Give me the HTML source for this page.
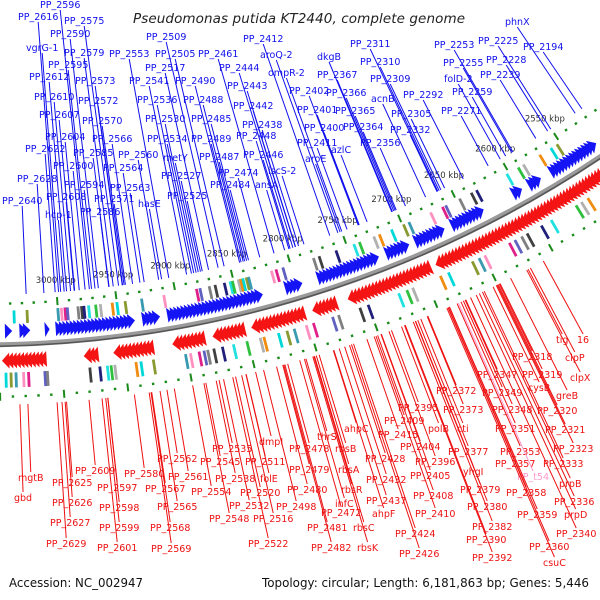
<!DOCTYPE html>
<html><head><meta charset="utf-8"><title>Pseudomonas putida KT2440 genome map</title>
<style>
html,body{margin:0;padding:0;background:#fff;}
svg{display:block;}
.lbl{font-family:"DejaVu Sans","Liberation Sans",sans-serif;font-size:9.5px;}
.tick{font-family:"DejaVu Sans","Liberation Sans",sans-serif;font-size:8.5px;fill:#333;}
</style></head>
<body>
<svg id="map" width="600" height="600" viewBox="0 0 600 600">
  <text x="299" y="23" text-anchor="middle" textLength="332" lengthAdjust="spacing" font-family="DejaVu Sans, Liberation Sans, sans-serif" font-style="italic" font-size="13.5" fill="#222">Pseudomonas putida KT2440, complete genome</text>
  <g id="tracks"></g>
  <g id="labels"></g>
  <text x="9" y="587" textLength="134" lengthAdjust="spacingAndGlyphs" font-family="DejaVu Sans, Liberation Sans, sans-serif" font-size="12" fill="#111">Accession: NC_002947</text>
  <text x="589" y="587" text-anchor="end" textLength="327" lengthAdjust="spacingAndGlyphs" font-family="DejaVu Sans, Liberation Sans, sans-serif" font-size="12" fill="#111">Topology: circular; Length: 6,181,863 bp; Genes: 5,446</text>
</svg>
<script>
// ---- data (kbp positions on genome) ----
const tickKbp = [2550,2600,2650,2700,2750,2800,2850,2900,2950,3000];
const tickLabels = ["2550 kbp","2600 kbp","2650 kbp","2700 kbp","2750 kbp","2800 kbp","2850 kbp","2900 kbp","2950 kbp","3000 kbp"];
const blueClusterStart = [3045,3034,3012,3003,2933,2912,2812,2782,2723,2696,2665,2606,2593,2570];
const blueClusterEnd   = [3039,3024,3008,2937,2916,2829,2795,2728,2701,2669,2633,2597,2579,2525];
const redClusterStart = [3049,2983,2958,2912,2879,2846,2796,2764,2688];
const redClusterEnd   = [3012,2970,2925,2883,2850,2800,2773,2692,2505];
const blueBarKbp = [3037,3026,3000,2997,2994,2992,2983,2980,2978,2974,2968,2964,2954,2950,2943,2929,2910,2882,2879,2871,2866,2858,2853,2851,2846,2844,2842,2839,2837,2817,2813,2807,2780,2775,2760,2744,2739,2726,2721,2710,2699,2694,2674,2663,2660,2647,2636,2631,2602,2591,2586,2570,2559,2553];
const redBarKbp = [3045,3041,3037,3031,3027,3014,3012,2978,2970,2964,2961,2958,2941,2937,2927,2901,2897,2890,2886,2883,2878,2871,2862,2851,2840,2837,2825,2818,2812,2802,2796,2780,2775,2757,2750,2724,2717,2712,2688,2681,2660,2654,2649,2627,2622,2616,2611,2598,2589,2566,2561,2555];
const barPalette = ['#00d8d8','#3a9ab0','#e0208a','#808080','#20207a','#30c040','#f08c10','#8a9a30','#ff90c0','#6060c0','#404040','#20e0e0','#b0b0b0'];
const dotStart = 2480, dotEnd = 3070;

// label layout: [name, x, baselineY]
const blueLabels = [
["PP_2596",40,8],["PP_2616",18,20],["PP_2575",64,24],["PP_2590",50,37],["vgrG-1",26,51],["PP_2579",64,56],
["PP_2553",109,57],["PP_2505",155,57],["PP_2461",198,57],["PP_2509",146,40],["PP_2412",243,42],["aroQ-2",260,58],
["PP_2595",48,68],["PP_2517",145,71],["ompR-2",268,76],["PP_2612",29,80],["PP_2573",75,84],["PP_2541",129,84],
["PP_2490",175,84],["PP_2444",219,71],["PP_2443",227,89],["PP_2610",34,100],["PP_2572",78,104],["PP_2536",137,103],
["PP_2488",183,103],["PP_2442",233,109],["PP_2607",39,118],["PP_2570",82,124],["PP_2530",145,122],["PP_2485",191,122],
["PP_2438",242,128],["PP_2604",45,140],["PP_2566",92,142],["PP_2534",147,142],["PP_2489",191,142],["PP_2448",236,139],
["PP_2622",25,152],["PP_2585",73,156],["PP_2560",118,158],["metY",163,161],["PP_2487",199,160],["PP_2446",243,158],
["PP_2600",53,169],["PP_2564",103,171],["PP_2527",161,179],["PP_2474",218,176],["iscS-2",268,174],["PP_2628",17,182],
["PP_2594",64,188],["PP_2563",110,191],["PP_2484",210,188],["ansA",255,188],["PP_2640",2,204],["PP_2608",46,200],
["PP_2571",94,202],["hasE",138,207],["PP_2525",167,199],["hcp-1",45,218],["PP_2586",80,215],
["PP_2311",350,47],["dkgB",317,60],["PP_2367",317,78],["PP_2310",360,65],["PP_2309",370,82],["PP_2402",289,94],
["PP_2366",326,96],["acnB",371,102],["PP_2292",403,98],["PP_2401",297,113],["PP_2365",335,114],["PP_2305",391,117],
["PP_2253",434,48],["PP_2225",478,44],["PP_2194",523,50],["phnX",505,25],["PP_2255",443,66],["PP_2228",486,63],
["folD-2",444,82],["PP_2239",480,78],["PP_2259",452,95],["PP_2271",441,114],["PP_2400",304,131],["PP_2364",343,130],
["PP_2332",390,133],["PP_2411",297,146],["PP_2356",360,146],["azlC",331,153],["aroE",305,162]
];
const redLabels = [
["mgtB",18,481],["gbd",14,501],["PP_2625",52,486],["PP_2626",52,506],["PP_2627",50,526],["PP_2629",46,547],
["PP_2609",75,474],["PP_2597",97,491],["PP_2598",99,511],["PP_2599",99,531],["PP_2601",97,551],["PP_2580",124,477],
["PP_2562",157,462],["PP_2567",145,492],["PP_2561",168,480],["PP_2565",157,510],["PP_2568",150,531],["PP_2569",151,552],
["PP_2535",212,452],["PP_2545",200,465],["dmpI",259,445],["PP_2511",245,465],["PP_2538",215,482],["folE",260,482],
["PP_2554",191,495],["PP_2520",240,496],["PP_2532",229,509],["PP_2548",209,522],["PP_2516",253,522],["PP_2522",248,547],
["PP_2478",289,452],["PP_2479",289,473],["PP_2480",287,493],["PP_2498",276,510],["PP_2481",307,531],["PP_2482",311,551],
["rbsB",335,452],["rbsA",338,473],["rbsR",341,493],["infC",335,507],["rbsC",353,531],["rbsK",357,551],["thrS",317,440],
["PP_2472",321,516],["ahpC",344,432],["PP_2428",365,462],["PP_2432",366,483],["PP_2437",366,504],["ahpF",372,517],
["PP_2424",395,537],["PP_2426",399,557],["PP_2395",398,411],["PP_2409",384,424],["PP_2415",378,438],["PP_2404",400,450],
["PP_2396",415,465],["PP_2405",410,479],["PP_2408",413,499],["PP_2410",415,517],["polB",428,432],["PP_2372",436,394],
["PP_2373",443,413],["cti",457,432],["PP_2377",448,455],["yhgI",463,475],["PP_2379",460,493],["PP_2380",467,510],
["PP_2382",472,530],["PP_2390",466,543],["PP_2392",472,561],["PP_2347",477,378],["PP_2349",482,396],["PP_2348",492,413],
["PP_2351",495,432],["PP_2353",500,455],["PP_2357",495,467],["PP_t54",517,480],["PP_2358",506,496],["PP_2359",517,518],
["PP_2360",529,550],["csuC",543,566],["PP_2318",512,360],["PP_2319",522,378],["cysB",528,391],["PP_2320",537,414],
["PP_2321",545,433],["PP_2323",553,452],["PP_2333",543,467],["prpB",559,487],["PP_2336",554,505],["prpD",564,518],
["PP_2340",556,537],["tig",556,343],["16",577,343],["clpP",565,361],["clpX",570,381],["greB",556,399]
];

// ---- geometry ----
const NS = "http://www.w3.org/2000/svg";
const CX = -22, CY = -777, R = 1122;
function ang(k){ return (57.67 + (k - 2550) * 0.0625) * Math.PI / 180; }
function pt(k, r){ const a = ang(k); return [CX + r*Math.cos(a), CY + r*Math.sin(a)]; }
function mk(tag, attrs, parent){ const e = document.createElementNS(NS, tag); for (const k in attrs) e.setAttribute(k, attrs[k]); parent.appendChild(e); return e; }
const tracks = document.getElementById('tracks');
const labelsG = document.getElementById('labels');

// backbone ring
(function(){
  const a = pt(2470, R), b = pt(3080, R);
  const d = `M${a[0]},${a[1]} A${R},${R} 0 0 1 ${b[0]},${b[1]}`;
  const ring = mk('path', {d:d, fill:'none', stroke:'#9a9a9a', 'stroke-width':5}, tracks);
  
  
  const a2 = pt(2470, R+1.5), b2 = pt(3080, R+1.5);
  const inner = mk('path', {d:`M${a2[0]},${a2[1]} A${R+1.5},${R+1.5} 0 0 1 ${b2[0]},${b2[1]}`, fill:'none', stroke:'#555', 'stroke-width':1.5}, tracks);
  
  
})();

// gene arrows
function drawArrows(starts, ends, r1, r2, color, pointLow, name){
  for (let i = 0; i < starts.length; i++){
    const lo = Math.min(starts[i], ends[i]), hi = Math.max(starts[i], ends[i]);
    const w = Math.min(6, Math.max(3, hi - lo));
    for (let k = lo; k <= Math.max(lo, hi - w) + 0.01; k += 3){
      let p1, p2, p3;
      const rm = (r1 + r2) / 2;
      if (pointLow){ p1 = pt(k + w, r1); p2 = pt(k + w, r2); p3 = pt(k, rm); }
      else { p1 = pt(k, r1); p2 = pt(k, r2); p3 = pt(k + w, rm); }
      const poly = mk('polygon', {points:`${p1[0]},${p1[1]} ${p2[0]},${p2[1]} ${p3[0]},${p3[1]}`, fill:color}, tracks);
      
      
    }
  }
}
drawArrows(blueClusterStart, blueClusterEnd, R-21, R-6, '#1414f5', true, 'forward-gene-arrow');
drawArrows(redClusterStart, redClusterEnd, R+8, R+24, '#f51414', false, 'reverse-gene-arrow');

// feature bars
function drawBars(list, r1, r2, name){
  list.forEach((k, i) => {
    const a = pt(k, r1), b = pt(k, r2);
    const l = mk('line', {x1:a[0], y1:a[1], x2:b[0], y2:b[1], stroke:barPalette[(i*7) % barPalette.length], 'stroke-width':2.8}, tracks);
    
    
  });
}
drawBars(blueBarKbp, R-34, R-21, 'inner-feature-bar');
drawBars(redBarKbp, R+28, R+43, 'outer-feature-bar');

// scale dots
function drawDots(rc, name){
  for (let k = dotStart; k <= dotEnd; k += 10){
    const major = (k % 50 === 0);
    const a = pt(k, rc - (major ? 4 : 1.2)), b = pt(k, rc + (major ? 4 : 1.2));
    const l = mk('line', {x1:a[0], y1:a[1], x2:b[0], y2:b[1], stroke:'#1a8a1a', 'stroke-width':major ? 2 : 2.4}, tracks);
    
    
  }
}
drawDots(R-41, 'inner-scale-mark');
drawDots(R+52, 'outer-scale-mark');

// tick labels
tickKbp.forEach((k, i) => {
  const p = pt(k, R-62);
  const t = mk('text', {x:p[0], y:p[1]+3, 'text-anchor':'middle', class:'tick'}, tracks);
  t.textContent = tickLabels[i];
  
  
});

// gene labels with leader lines
function drawLabels(list, color, inner){
  list.forEach(item => {
    const name = item[0], x = item[1], y = item[2];
    const col = (name === 'PP_t54') ? '#ff99cc' : color;
    const t = mk('text', {x:x, y:y, class:'lbl', fill:col}, labelsG);
    t.textContent = name;
    
    
    const w = t.getComputedTextLength ? t.getComputedTextLength() : name.length*5.7;
    const ax = x + w/2, ay = inner ? y + 2 : y - 9;
    const dx = ax - CX, dy = ay - CY, dist = Math.sqrt(dx*dx + dy*dy);
    const rt = inner ? R - 50 : R + 60;
    const ex = CX + dx * rt / dist, ey = CY + dy * rt / dist;
    const l = mk('line', {x1:ax, y1:ay, x2:ex, y2:ey, stroke:col, 'stroke-width':1}, labelsG);
    
    
  });
}
drawLabels(blueLabels, '#1010ee', true);
drawLabels(redLabels, '#ee1010', false);
</script>
</body></html>
